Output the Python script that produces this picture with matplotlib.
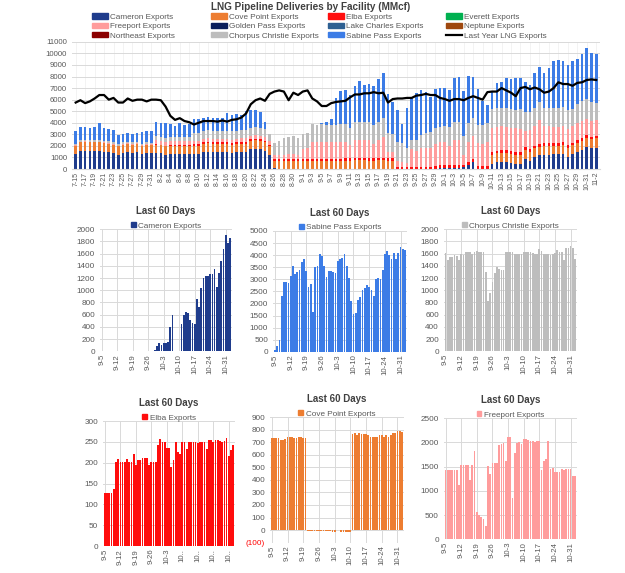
import numpy as np
import pandas as pd
import matplotlib
matplotlib.use('Agg')
import matplotlib.pyplot as plt
from matplotlib.patches import Patch
from matplotlib.lines import Line2D
from matplotlib.ticker import FuncFormatter

plt.rcParams['font.family'] = ['Liberation Sans', 'DejaVu Sans']

# daily dates 7-15 .. 11-2 (top chart) and the last 59 of them (small charts)
dates = pd.date_range('2023-07-15', '2023-11-02')
date_labels = [f"{d.month}-{d.day}" for d in dates]
last_labels = date_labels[-59:]

# ---- first 52 days (7-15 .. 9-4) ----
cameron_early = [1300, 1550, 1600, 1550, 1550, 1550, 1500, 1450, 1350, 1250, 1400, 1450, 1400, 1450, 1300, 1400, 1350,
                 1400, 1350, 1250, 1300, 1300, 1300, 1300, 1300,
                 1300, 1300, 1450, 1500, 1450, 1450, 1450, 1450, 1400, 1450, 1500, 1500, 1700, 1750, 1700, 1600, 1250,
                 80, 0, 0, 0, 0, 0, 0, 0, 0, 0]
cove_early = [700, 750, 750, 750, 750, 750, 750, 750, 750, 700, 700, 720, 700, 700, 700, 700, 700,
              700, 700, 720, 700, 700, 700, 700, 720,
              700, 700, 700, 720, 700, 700, 700, 720, 700, 700, 700, 700, 720, 720, 720, 700, 700,
              650, 720, 720, 720, 720, 720, 720, 720, 720, 720]
elba_early = [0, 0, 0, 0, 0, 0, 0, 0, 0, 0, 0, 0, 0, 0, 0, 0, 0,
              50, 50, 50, 50, 50, 50, 50, 50,
              150, 150, 150, 150, 150, 150, 150, 150, 150, 150, 150, 150, 150, 150, 150, 150, 150,
              130, 130, 130, 130, 130, 130, 130, 130, 130, 130]
freeport_early = [80, 80, 80, 80, 80, 80, 80, 80, 80, 80, 80, 80, 80, 80, 80, 80, 80,
                  350, 350, 350, 350, 350, 350, 350, 350,
                  300, 300, 300, 300, 300, 300, 300, 300, 300, 300, 300, 300, 300, 300, 300, 300, 300,
                  350, 350, 400, 450, 450, 400, 900, 1000, 1450, 1450]
chorpus_early = [120, 120, 120, 120, 120, 120, 120, 120, 120, 120, 120, 120, 120, 120, 120, 120, 120,
                 350, 350, 350, 350, 350, 350, 350, 350,
                 700, 700, 700, 700, 700, 700, 700, 700, 700, 700, 700, 700, 700, 700, 700, 700, 650,
                 1040, 1200, 1400, 1500, 1550, 1400, 1250, 1300, 1600, 1550]
sabine_early = [1100, 1100, 1100, 1050, 1100, 1450, 1100, 1100, 1100, 800, 750, 750, 700, 750, 1000, 1000, 1000,
                1200, 1150, 1250, 1150, 1000, 1200, 1050, 1150,
                1150, 1150, 1150, 1100, 1100, 1150, 1100, 1500, 1450, 1500, 1350, 1650, 1550, 1450, 1400, 650, 0,
                0, 0, 0, 0, 0, 0, 0, 0, 0, 0]

# ---- last 59 days (9-5 .. 11-2) ----
cameron_last = [0, 0, 0, 0, 0, 0, 0, 0, 0, 0, 0, 0, 0, 0, 0, 0, 0, 0, 0, 0, 0, 0,
                5, 10, 15, 90,
                130, 100, 130, 130, 150, 390, 590, 5, 0, 0,
                450, 600, 650, 620, 520, 470,
                440, 860, 730, 1040, 1200, 1230, 1230,
                1260, 1260, 1340, 1060, 1280, 1480, 1680,
                1900, 1780, 1860]
sabine_last = [80, 230, 480, 2300, 2900, 2900, 2850, 3150, 3550, 3200, 3300, 3400, 3700, 3850, 3350, 2700,
               2800, 1650, 3500, 3550, 4050, 3950, 3550, 3100, 3350, 3350,
               3300, 3250, 3750, 3850, 3900, 4050, 3550, 3050, 2100, 1550, 1600, 2150, 2250, 2550, 2650, 2750,
               2700, 2550, 2300, 3000, 3050, 3000, 3400, 4050, 4150, 4000, 3850, 4100, 3850, 4100, 4350,
               4250, 4200]
chorpus_last = [1610, 1500, 1550, 1550, 1580, 1560, 1500, 1600, 1570, 1620, 1620, 1620, 1600, 1620, 1650, 1630,
                1630, 1630, 1300, 820, 950, 1130, 1290, 1380, 1350, 1330,
                1330, 1630, 1630, 1630, 1630, 1600, 1600, 1600, 1600, 1630, 1630, 1630, 1630, 1610, 1600, 1600,
                1680, 1640, 1600, 1600, 1600, 1580, 1600, 1610, 1660, 1630, 1620,
                1490, 1690, 1690, 1730, 1690, 1510]
elba_last = [127, 127, 127, 127, 137, 202, 209, 202, 202, 202, 209, 202, 202, 222, 195, 207, 207, 211, 211, 211,
             195, 202, 202, 202, 242, 257,
             251, 251, 236, 236, 191, 207, 251, 226, 221, 251, 251, 232, 251, 251, 251, 251, 247, 251, 251, 251,
             233, 254, 254, 250, 254, 254, 253, 250, 253, 259, 216,
             231, 243]
cove_last = [730, 730, 730, 730, 720, 720, 725, 740, 740, 740, 730, 735, 745, 745, 735, 735,
             -8, -8, -8, -8, -8, -8, -8, -8, -8, -10, -10, -12, -12,
             0, 0,
             -12, -12, -12, -12, -12,
             765, 770, 755, 770, 765, 765, 765, 760, 740, 740, 740, 740, 755, 760, 745, 755, 740, 760, 770, 770,
             790, 790, 785]
freeport_last = [1440, 1440, 1440, 1440, 1440, 1440, 1130, 1530, 1530, 1530, 1530, 1220, 1540, 1830, 560, 490,
                 460, 410, 270, 1520, 1350, 1580, 1580, 1570, 1950, 1970,
                 1980, 1620, 2110, 2110, 850, 1780, 1980, 2000, 1970, 2070, 2070, 2060, 2030, 2030, 2020, 2030,
                 2040, 1440, 1620, 1660, 2030, 1460, 1470, 1380, 1380, 1380, 1450, 1440, 1460, 1460, 1460,
                 1310, 1310]

last_year = [5750, 5950, 5700, 5850, 6100, 6400, 6400, 6000, 6150, 5750, 5750, 6100, 5900, 6000, 6000, 5850,
             6000, 6000, 5950, 5400, 4600, 4250, 4400, 4150, 4050, 3850, 4000, 4150, 4150, 4150, 4100, 4200,
             4100, 4250, 4300, 4450, 4800, 5600, 5950, 6100, 5900, 6500, 6700, 6800, 6700, 5950, 6600, 6400,
             6700, 6800, 6100, 5850, 5450, 5450, 5700, 5800, 5850, 5900, 6200, 6450, 6450, 6550, 6550, 6650,
             6550, 6600, 5750, 6050, 6100, 6100, 6150, 6150, 6350, 6400, 6500, 6400, 6400, 6150, 6050, 5900,
             6050, 6050, 5950, 6150, 6300, 6150, 6000, 6650, 6700, 6700, 7000, 6800, 6600, 6300, 7000, 7100,
             6900, 7050, 6900, 6600, 6700, 7000, 7500, 7350, 7350, 7200, 7450, 7500, 7700, 7750, 7700]

cameron = cameron_early + cameron_last
cove = cove_early + cove_last
elba = elba_early + elba_last
freeport = freeport_early + freeport_last
chorpus = chorpus_early + chorpus_last
sabine = sabine_early + sabine_last

c_cam = '#1f3c8c'
c_cove = '#ed7d31'
c_elba = '#ff0d0d'
c_ever = '#00b050'
c_free = '#ff9c9c'
c_gold = '#0b1f5c'
c_lake = '#2e6092'
c_nep = '#9e480e'
c_ne = '#8b0000'
c_cc = '#bdbdbd'
c_sab = '#3c7ce6'
grey_txt = '#595959'
grid_c = '#d9d9d9'

fig = plt.figure(figsize=(6.25, 5.73), dpi=100)

# ---------------- top stacked chart ----------------
ax = fig.add_axes([0.115, 0.705, 0.845, 0.222])
x = np.arange(len(dates))
bottom = np.zeros(len(x))
for vals, col in [(cameron, c_cam), (cove, c_cove), (elba, c_elba), (freeport, c_free),
                  (chorpus, c_cc), (sabine, c_sab)]:
    v = np.array(vals, dtype=float)
    pos = np.clip(v, 0, None)
    ax.bar(x, pos, 0.55, bottom=bottom, color=col, zorder=2)
    bottom = bottom + pos
ax.plot(x, last_year, color='black', lw=1.6, zorder=3)
ax.set_xlim(-0.8, len(x) - 0.2)
ax.set_ylim(0, 11000)
ax.set_yticks(range(0, 11001, 1000))
ax.set_xticks(x[::2])
ax.set_xticklabels(date_labels[::2], rotation=90, fontsize=5.0, color=grey_txt)
ax.tick_params(axis='y', labelsize=5.6, colors=grey_txt, length=0)
ax.tick_params(axis='x', length=0, pad=2)
ax.grid(axis='y', color=grid_c, lw=0.7, zorder=0)
ax.grid(axis='x', color='#eeeeee', lw=0.5, zorder=0)
for s in ax.spines.values():
    s.set_visible(False)
ax.spines['bottom'].set_visible(True)
ax.spines['bottom'].set_color(grid_c)

fig.text(0.497, 0.997, 'LNG Pipeline Deliveries by Facility (MMcf)', ha='center', va='top',
         fontsize=7.2, fontweight='bold', color='#404040')

# legend: four fixed-width columns like the original
legend_cols = [
    [('Cameron Exports', Patch(color=c_cam)), ('Freeport Exports', Patch(color=c_free)),
     ('Northeast Exports', Patch(color=c_ne))],
    [('Cove Point Exports', Patch(color=c_cove)), ('Golden Pass Exports', Patch(color=c_gold)),
     ('Chorpus Christie Exports', Patch(color=c_cc))],
    [('Elba Exports', Patch(color=c_elba)), ('Lake Charles Exports', Patch(color=c_lake)),
     ('Sabine Pass Exports', Patch(color=c_sab))],
    [('Everett Exports', Patch(color=c_ever)), ('Neptune Exports', Patch(color=c_nep)),
     ('Last Year LNG Exports', Line2D([], [], color='black', lw=1.6))],
]
col_x = [92, 211, 328, 446]
for cx, items in zip(col_x, legend_cols):
    fig.legend([h for _, h in items], [t for t, _ in items], loc='upper left',
               bbox_to_anchor=(cx / 625, 1 - 13.5 / 573), frameon=False, fontsize=5.9,
               handlelength=1.9, handleheight=0.6, labelspacing=0.22, handletextpad=0.3,
               borderaxespad=0, borderpad=0, labelcolor=grey_txt)

# ---------------- small charts ----------------
xs = np.arange(59)


def small(rect, vals, col, label, yticks, ylim, fmt=None, xlabels=None):
    a = fig.add_axes(rect)
    a.bar(xs, vals, 0.78, color=col, zorder=2)
    a.set_xlim(-0.8, 58.8)
    a.set_ylim(*ylim)
    a.set_yticks(yticks)
    a.set_xticks(xs[::7])
    a.set_xticklabels(xlabels if xlabels else last_labels[::7], rotation=90, fontsize=5.6, color=grey_txt)
    a.tick_params(axis='y', labelsize=5.9, colors=grey_txt, length=0)
    a.tick_params(axis='x', length=0, pad=2)
    a.grid(True, color=grid_c, lw=0.7, zorder=0)
    for s in a.spines.values():
        s.set_visible(False)
    if fmt:
        a.yaxis.set_major_formatter(FuncFormatter(fmt))
    a.set_title('Last 60 Days', fontsize=7.0, fontweight='bold', color='#404040', pad=11)
    a.legend([Patch(color=col)], [label], loc='lower center', bbox_to_anchor=(0.5, 0.99), frameon=False,
             fontsize=5.9, handlelength=0.6, handleheight=0.6, handletextpad=0.3, borderaxespad=0,
             borderpad=0.1, labelcolor=grey_txt)
    return a


small([0.160, 0.387, 0.211, 0.213], cameron_last, c_cam, 'Cameron Exports', range(0, 2001, 200), (0, 2000))
small([0.437, 0.386, 0.214, 0.211], sabine_last, c_sab, 'Sabine Pass Exports', range(0, 5001, 500), (0, 5000))
small([0.710, 0.387, 0.213, 0.213], chorpus_last, c_cc, 'Chorpus Christie Exports', range(0, 2001, 200), (0, 2000))

elba_labels = ['9-5', '9-12', '9-19', '9-26', '10-3', '10..', '10..', '10..', '10..']
small([0.165, 0.047, 0.211, 0.218], elba_last, c_elba, 'Elba Exports', range(0, 301, 50), (0, 300),
      xlabels=elba_labels)


def paren(v, p):
    return f"({abs(int(v))})" if v < 0 else f"{int(v)}"


ac = small([0.432, 0.053, 0.214, 0.219], cove_last, c_cove, 'Cove Point Exports', range(-100, 901, 100),
           (-100, 900), fmt=paren)
fig.canvas.draw()
for t in ac.get_yticklabels():
    if t.get_text().startswith('('):
        t.set_color('#ff0000')

small([0.710, 0.059, 0.213, 0.211], freeport_last, c_free, 'Freeport Exports', range(0, 2501, 500), (0, 2500))

fig.savefig('out.png', dpi=100)
